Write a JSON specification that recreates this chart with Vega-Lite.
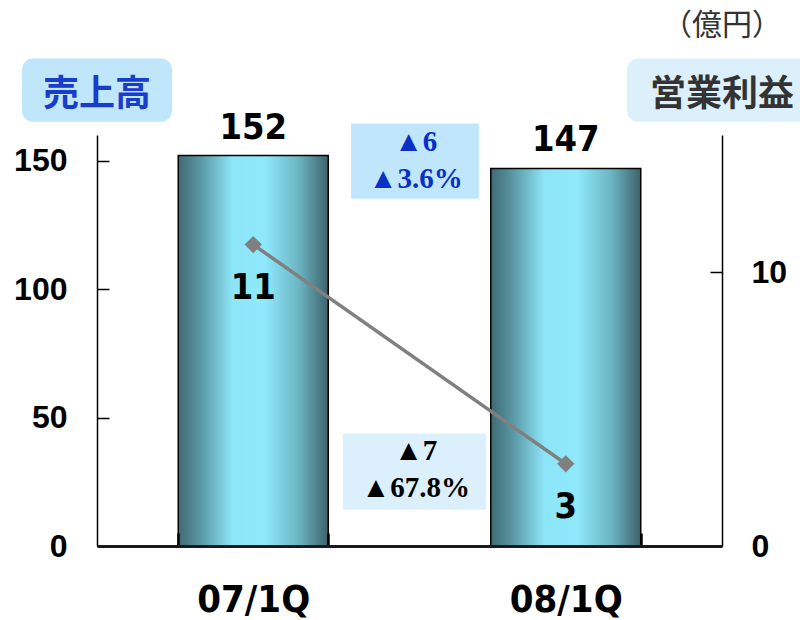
{
  "$schema": "https://vega.github.io/schema/vega-lite/v6.json",
  "width": 625,
  "height": 411,
  "autosize": {"type": "none"},
  "padding": {"left": 97, "top": 135, "right": 78, "bottom": 74},
  "background": "white",
  "config": {"view": {"stroke": null}},
  "datasets": {
    "results": [
      {"q": "07/1Q", "sales": 152, "profit": 11},
      {"q": "08/1Q", "sales": 147, "profit": 3}
    ],
    "boxes": [
      {"kind": "salesChange", "shape": "square", "x": 0.813, "x2": 1.222, "y": 164.5, "y2": 135.2},
      {"kind": "profitChange", "shape": "square", "x": 0.787, "x2": 1.245, "y": 43.8, "y2": 14.1},
      {"kind": "salesHead", "shape": "round", "x": -0.24, "x2": 0.24, "y": 189.8, "y2": 165.2},
      {"kind": "profitHead", "shape": "round", "x": 1.696, "x2": 2.304, "y": 189.8, "y2": 165.2}
    ],
    "notes": [
      {"kind": "salesChange", "x": 1.02, "y": 157.4, "text": "▲6\n▲3.6%"},
      {"kind": "profitChange", "x": 1.02, "y": 36.9, "text": "▲7\n▲67.8%"}
    ],
    "heads": [
      {"kind": "salesHead", "x": 0, "y": 175.5, "text": "売上高"},
      {"kind": "profitHead", "x": 2, "y": 175.5, "text": "営業利益"},
      {"kind": "unit", "x": 2, "y": 202.5, "text": "（億円）"}
    ]
  },
  "layer": [
    {
      "data": {"name": "results"},
      "encoding": {
        "x": {
          "field": "q", "type": "nominal", "sort": null,
          "scale": {"paddingInner": 0.52, "paddingOuter": 0.26},
          "axis": {
            "title": null, "labelAngle": 0, "tickBand": "extent",
            "tickSize": -13, "tickWidth": 2.5, "tickColor": "#000",
            "domainColor": "#1a1a1a", "domainWidth": 3,
            "labelFont": "DejaVu Sans Condensed, Liberation Sans Narrow, Liberation Sans", "labelFontSize": 38, "labelFontWeight": "bold",
            "labelColor": "#000", "labelPadding": 48, "zindex": 1
          }
        }
      },
      "layer": [
        {
          "mark": {
            "type": "bar",
            "color": {
              "gradient": "linear", "x1": 0, "y1": 0, "x2": 1, "y2": 0,
              "stops": [
                {"offset": 0, "color": "#3f6a74"},
                {"offset": 0.15, "color": "#5a98a4"},
                {"offset": 0.36, "color": "#8de6f8"},
                {"offset": 0.58, "color": "#8ee9fb"},
                {"offset": 0.8, "color": "#6cb6c4"},
                {"offset": 1, "color": "#3e626b"}
              ]
            },
            "stroke": "#000", "strokeWidth": 1.5
          },
          "encoding": {
            "y": {
              "field": "sales", "type": "quantitative",
              "scale": {"domain": [0, 160], "nice": false, "zero": true},
              "axis": {
                "title": null, "values": [0, 50, 100, 150], "grid": false,
                "tickSize": -12, "tickWidth": 1.5, "tickColor": "#000",
                "domainColor": "#000", "domainWidth": 1.5,
                "labelFont": "Liberation Sans", "labelFontWeight": "bold", "labelFontSize": 32,
                "labelColor": "#000", "labelPadding": 42
              }
            }
          }
        },
        {
          "mark": {"type": "text", "font": "DejaVu Sans Condensed, Liberation Sans Narrow, Liberation Sans", "fontWeight": "bold", "fontSize": 36, "baseline": "alphabetic", "dy": -17, "color": "#000"},
          "encoding": {
            "y": {"field": "sales", "type": "quantitative"},
            "text": {"field": "sales", "type": "quantitative"}
          }
        }
      ]
    },
    {
      "data": {"name": "results"},
      "encoding": {
        "x": {
          "field": "q", "type": "nominal", "sort": null,
          "scale": {"paddingInner": 0.52, "paddingOuter": 0.26},
          "axis": null
        },
        "y": {
          "field": "profit", "type": "quantitative",
          "scale": {"domain": [0, 15], "nice": false, "zero": true},
          "axis": {
            "orient": "right", "title": null, "values": [0, 10], "grid": false,
            "tickSize": -12, "tickWidth": 1.5, "tickColor": "#000",
            "domainColor": "#000", "domainWidth": 1.5,
            "labelFont": "Liberation Sans", "labelFontWeight": "bold", "labelFontSize": 32,
            "labelColor": "#000", "labelPadding": 41
          }
        }
      },
      "layer": [
        {"mark": {"type": "line", "color": "#808080", "strokeWidth": 3.5}, "encoding": {}},
        {"mark": {"type": "point", "shape": "diamond", "filled": true, "size": 300, "color": "#808080", "opacity": 1}, "encoding": {}},
        {
          "mark": {"type": "text", "font": "DejaVu Sans Condensed, Liberation Sans Narrow, Liberation Sans", "fontWeight": "bold", "fontSize": 36, "baseline": "middle", "dy": 43, "color": "#000"},
          "encoding": {"text": {"field": "profit", "type": "quantitative"}}
        }
      ]
    },
    {
      "layer": [
        {
          "data": {"name": "boxes"},
          "transform": [{"filter": "datum.shape == 'square'"}],
          "mark": {"type": "rect"},
          "encoding": {
            "x": {"field": "x", "type": "quantitative", "scale": {"domain": [0, 2], "nice": false, "zero": false}, "axis": null},
            "x2": {"field": "x2"},
            "y": {"field": "y", "type": "quantitative", "scale": {"domain": [0, 160], "nice": false, "zero": true}, "axis": null},
            "y2": {"field": "y2"},
            "color": {
              "field": "kind", "type": "nominal", "legend": null,
              "scale": {"domain": ["salesChange", "profitChange"], "range": ["#bfe6fc", "#dbf0fc"]}
            }
          }
        },
        {
          "data": {"name": "boxes"},
          "transform": [{"filter": "datum.shape == 'round'"}],
          "mark": {"type": "rect", "cornerRadius": 11},
          "encoding": {
            "x": {"field": "x", "type": "quantitative"},
            "x2": {"field": "x2"},
            "y": {"field": "y", "type": "quantitative"},
            "y2": {"field": "y2"},
            "color": {
              "field": "kind", "type": "nominal", "legend": null,
              "scale": {"domain": ["salesHead", "profitHead"], "range": ["#c0e6fc", "#dcf0fc"]}
            }
          }
        },
        {
          "data": {"name": "notes"},
          "mark": {"type": "text", "font": "Liberation Serif", "fontWeight": "bold", "fontSize": 29, "lineBreak": "\n", "lineHeight": 37, "baseline": "middle"},
          "encoding": {
            "x": {"field": "x", "type": "quantitative"},
            "y": {"field": "y", "type": "quantitative"},
            "text": {"field": "text"},
            "color": {
              "field": "kind", "type": "nominal", "legend": null,
              "scale": {"domain": ["salesChange", "profitChange"], "range": ["#0b30c8", "#000000"]}
            }
          }
        },
        {
          "data": {"name": "heads"},
          "transform": [{"filter": "datum.kind != 'unit'"}],
          "mark": {"type": "text", "font": "Noto Sans CJK JP", "fontWeight": "bold", "fontSize": 36, "baseline": "middle"},
          "encoding": {
            "x": {"field": "x", "type": "quantitative"},
            "y": {"field": "y", "type": "quantitative"},
            "text": {"field": "text"},
            "color": {
              "field": "kind", "type": "nominal", "legend": null,
              "scale": {"domain": ["salesHead", "profitHead"], "range": ["#1a3ccc", "#333333"]}
            }
          }
        },
        {
          "data": {"name": "heads"},
          "transform": [{"filter": "datum.kind == 'unit'"}],
          "mark": {"type": "text", "font": "Noto Sans CJK JP", "fontWeight": "normal", "fontSize": 30, "baseline": "middle", "color": "#333333"},
          "encoding": {
            "x": {"field": "x", "type": "quantitative"},
            "y": {"field": "y", "type": "quantitative"},
            "text": {"field": "text"}
          }
        }
      ],
      "resolve": {"scale": {"color": "independent"}}
    }
  ],
  "resolve": {
    "scale": {"x": "independent", "y": "independent"},
    "axis": {"x": "independent", "y": "independent"}
  }
}
